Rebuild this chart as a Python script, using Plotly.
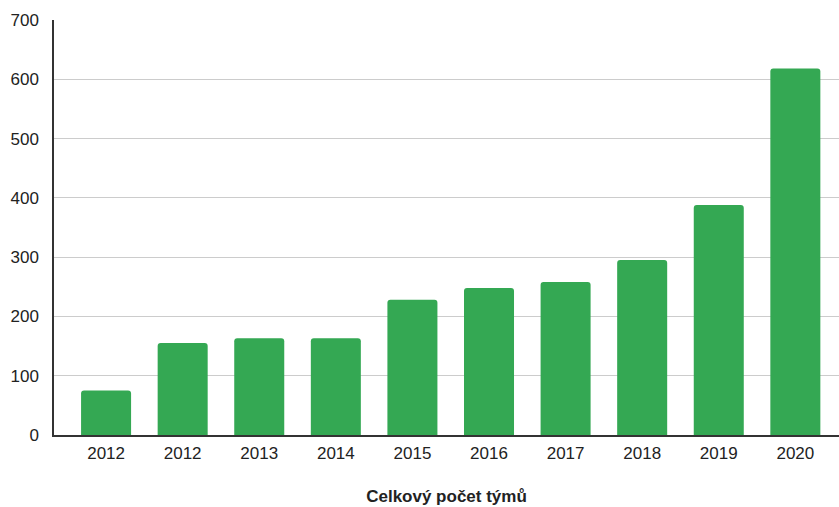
import plotly.graph_objects as go

categories = ["2012", "2012", "2013", "2014", "2015", "2016", "2017", "2018", "2019", "2020"]
values = [75, 155, 163, 163, 228, 248, 258, 295, 388, 618]
y_ticks = [0, 100, 200, 300, 400, 500, 600, 700]

positions = list(range(len(categories)))

fig = go.Figure(go.Bar(
    x=positions,
    y=values,
    width=0.653,
    marker=dict(color="#34a853", cornerradius=3, line=dict(width=0)),
    hoverinfo="skip",
))

fig.update_layout(
    width=839, height=507,
    margin=dict(l=54, r=0, t=20, b=72),
    paper_bgcolor="white", plot_bgcolor="white",
    font=dict(family="Liberation Sans, Arial, sans-serif", size=17, color="#222222"),
    showlegend=False,
    xaxis=dict(
        tickmode="array", tickvals=positions, ticktext=categories,
        range=[-0.68, 9.57], showgrid=False, zeroline=False,
        showline=True, linecolor="#333333", linewidth=1.5,
        ticks="", ticklabelstandoff=2, tickfont=dict(size=17, color="#222222"),
        automargin=False,
        title=dict(text="<b>Celkový počet týmů</b>", font=dict(size=17, color="#222222"), standoff=28),
    ),
    yaxis=dict(
        range=[0, 700], tickvals=y_ticks,
        showgrid=True, gridcolor="#cccccc", gridwidth=1,
        zeroline=False, showline=True, linecolor="#333333", linewidth=1.5,
        ticks="", ticklabelstandoff=10, tickfont=dict(size=17, color="#222222"),
        automargin=False,
    ),
)

fig.write_html(
    "out.html",
    config={"displayModeBar": False},
    post_script="document.body.style.margin='0px'; document.body.style.overflow='hidden';",
)
